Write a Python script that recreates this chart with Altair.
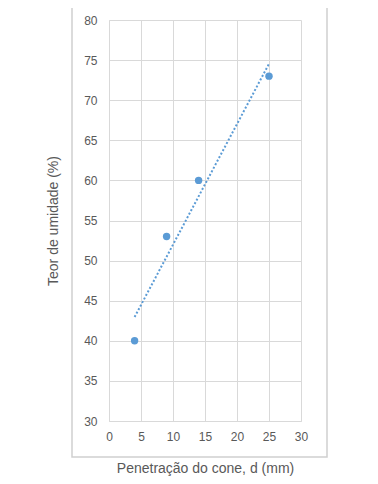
import altair as alt
import pandas as pd

penetracao = [4, 9, 14, 25]
teor = [40, 53, 60, 73]
x_ticks = [0, 5, 10, 15, 20, 25, 30]
y_ticks = [30, 35, 40, 45, 50, 55, 60, 65, 70, 75, 80]

df = pd.DataFrame({"d": penetracao, "teor": teor})

BLUE = "#5b9bd5"
GRAY_TXT = "#595959"
GRID = "#d9d9d9"
FONT = "Liberation Sans"

W, H = 192, 401

xscale = alt.Scale(domain=[0, 30], nice=False, zero=False)
yscale = alt.Scale(domain=[30, 80], nice=False, zero=False)

xaxis = alt.Axis(values=x_ticks, title="Penetração do cone, d (mm)", grid=True,
                 gridColor=GRID, domainColor=GRID, ticks=False, labelPadding=10,
                 labelOverlap=False, labelFlush=False,
                 labelFontSize=12, labelColor=GRAY_TXT, labelFont=FONT,
                 titleFont=FONT, titleFontSize=14, titleFontWeight="normal",
                 titleColor=GRAY_TXT, titleX=W / 2, titleY=47,
                 titleBaseline="middle", titleAlign="center")
yaxis = alt.Axis(values=y_ticks, title="Teor de umidade (%)", grid=True,
                 gridColor=GRID, domainColor=GRID, ticks=False, labelPadding=12,
                 labelOverlap=False, labelFlush=False,
                 labelFontSize=12, labelColor=GRAY_TXT, labelFont=FONT,
                 titleFont=FONT, titleFontSize=14, titleFontWeight="normal",
                 titleColor=GRAY_TXT, titleX=-56, titleY=H / 2, titleAngle=-90,
                 titleBaseline="middle", titleAlign="center")

frame = alt.Chart(df).mark_rect(fillOpacity=0, stroke="#d0d0d0", strokeWidth=1.5).encode(
    x=alt.value(-37), x2=alt.value(218), y=alt.value(-15), y2=alt.value(437)
).transform_filter("datum.d == 4")

base = alt.Chart(df)

points = base.mark_circle(size=55, opacity=1, color=BLUE).encode(
    x=alt.X("d:Q", scale=xscale, axis=xaxis),
    y=alt.Y("teor:Q", scale=yscale, axis=yaxis),
)

trend = base.transform_regression("d", "teor").mark_line(
    color=BLUE, strokeWidth=2, strokeDash=[2, 2]
).encode(
    x=alt.X("d:Q", scale=xscale, axis=xaxis),
    y=alt.Y("teor:Q", scale=yscale, axis=yaxis),
)

chart = alt.layer(frame, trend, points).properties(
    width=W, height=H,
    autosize=alt.AutoSizeParams(type="none"),
    padding={"left": 101, "top": 12, "right": 60, "bottom": 62},
    background="white",
).configure_view(stroke=None).configure_axis(labelOverlap=False)

chart.save("out.html", embed_options={"renderer": "svg", "actions": False})
